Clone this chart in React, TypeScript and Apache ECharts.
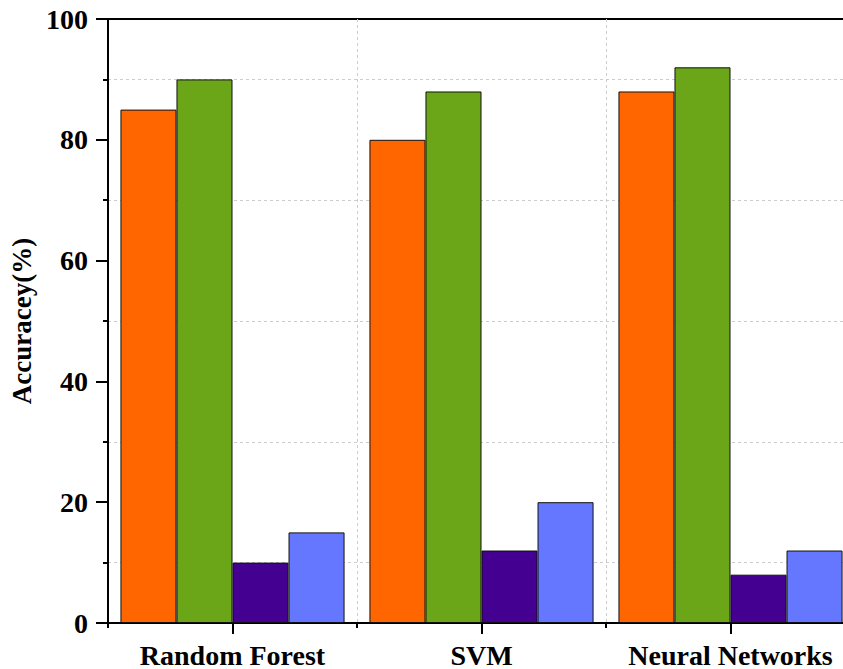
import React, { useEffect, useRef } from "react";
import * as echarts from "echarts";

const categories = ["Random Forest", "SVM", "Neural Networks"];
const seriesA = [85, 80, 88];
const seriesB = [90, 88, 92];
const seriesC = [10, 12, 8];
const seriesD = [15, 20, 12];
const colors = ["#FF6600", "#6AA618", "#440090", "#6677FF"];
const yTicks = [0, 20, 40, 60, 80, 100];

const FONT = "'Liberation Serif', 'Times New Roman', serif";

export default function App() {
  const ref = useRef<HTMLDivElement>(null);
  useEffect(() => {
    if (!ref.current) return;
    const chart = echarts.init(ref.current, null, { renderer: "svg" });
    const allSeries = [seriesA, seriesB, seriesC, seriesD];
    chart.setOption({
      animation: false,
      backgroundColor: "#fff",
      grid: {
        left: 108,
        top: 19,
        bottom: 46,
        right: -12,
        containLabel: false,
        outerBoundsMode: "none",
        show: true,
        borderColor: "#000",
        borderWidth: 2,
        backgroundColor: "transparent",
      },
      xAxis: [
        {
          type: "category",
          data: categories,
          position: "bottom",
          boundaryGap: true,
          axisLine: { lineStyle: { color: "#000", width: 2 } },
          axisTick: { show: true, length: 5, lineStyle: { color: "#000", width: 2 } },
          axisLabel: {
            interval: 0,
            hideOverlap: false,
            color: "#000",
            fontFamily: FONT,
            fontWeight: "bold",
            fontSize: 28,
            margin: 18,
          },
          splitLine: { show: true, lineStyle: { color: "#ccc", type: [3, 3], width: 1 } },
        },
        {
          type: "category",
          data: categories,
          position: "bottom",
          axisLine: { show: false },
          axisTick: { show: true, alignWithLabel: true, interval: 0, length: 11, lineStyle: { color: "#000", width: 2 } },
          axisLabel: { show: false },
          splitLine: { show: false },
        },
      ],
      yAxis: {
        type: "value",
        min: yTicks[0],
        max: yTicks[yTicks.length - 1],
        interval: 20,
        name: "Accuracey(%)",
        nameLocation: "middle",
        nameGap: 71,
        nameTextStyle: {
          color: "#000",
          fontFamily: FONT,
          fontWeight: "bold",
          fontSize: 27,
        },
        axisLine: { show: true, lineStyle: { color: "#000", width: 2 } },
        axisTick: { show: true, length: 12, lineStyle: { color: "#000", width: 2 } },
        minorTick: { show: true, splitNumber: 2, length: 5, lineStyle: { color: "#000", width: 2 } },
        axisLabel: {
          color: "#000",
          fontFamily: FONT,
          fontWeight: "bold",
          fontSize: 28,
          margin: 20,
        },
        splitLine: { show: false },
        minorSplitLine: { show: true, lineStyle: { color: "#ccc", type: [3, 3], width: 1 } },
      },
      series: allSeries.map((d, i) => ({
        type: "bar",
        data: d,
        xAxisIndex: 0,
        barGap: "0%",
        barCategoryGap: "10%",
        itemStyle: { color: colors[i], borderColor: "#111", borderWidth: 1 },
      })),
    });
    return () => chart.dispose();
  }, []);
  return (
    <div
      ref={ref}
      style={{ position: "fixed", left: 0, top: 0, width: 843, height: 669, background: "#fff" }}
    />
  );
}
